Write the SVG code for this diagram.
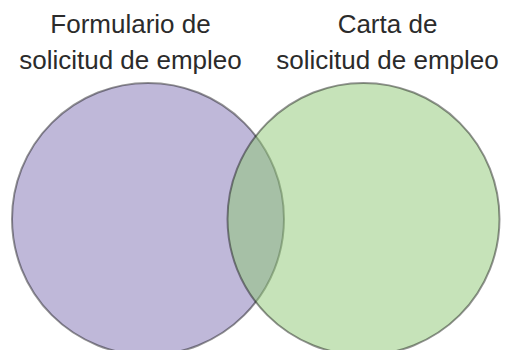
<svg xmlns="http://www.w3.org/2000/svg" width="516" height="350" viewBox="0 0 516 350">
<style>
.lbl{font-family:"Liberation Sans",Arial,sans-serif;font-size:26px;fill:#2b2b2b;text-anchor:middle}
.c{stroke:#000;stroke-opacity:0.42;stroke-width:2}
</style>
<rect width="516" height="350" fill="#fff"/>
<g id="set-a">
<circle class="c" cx="148" cy="219" r="136" fill="#bfb8d9"/>
</g>
<g id="set-b">
<circle class="c" cx="363.5" cy="219" r="136" fill="#8dc773" fill-opacity="0.5"/>
</g>
<g id="label-a">
<text class="lbl" x="130.5" y="33">Formulario de</text>
<text class="lbl" x="130.5" y="69">solicitud de empleo</text>
</g>
<g id="label-b">
<text class="lbl" x="387.5" y="33">Carta de</text>
<text class="lbl" x="387.5" y="69">solicitud de empleo</text>
</g>
<g id="connectors"></g>
</svg>
